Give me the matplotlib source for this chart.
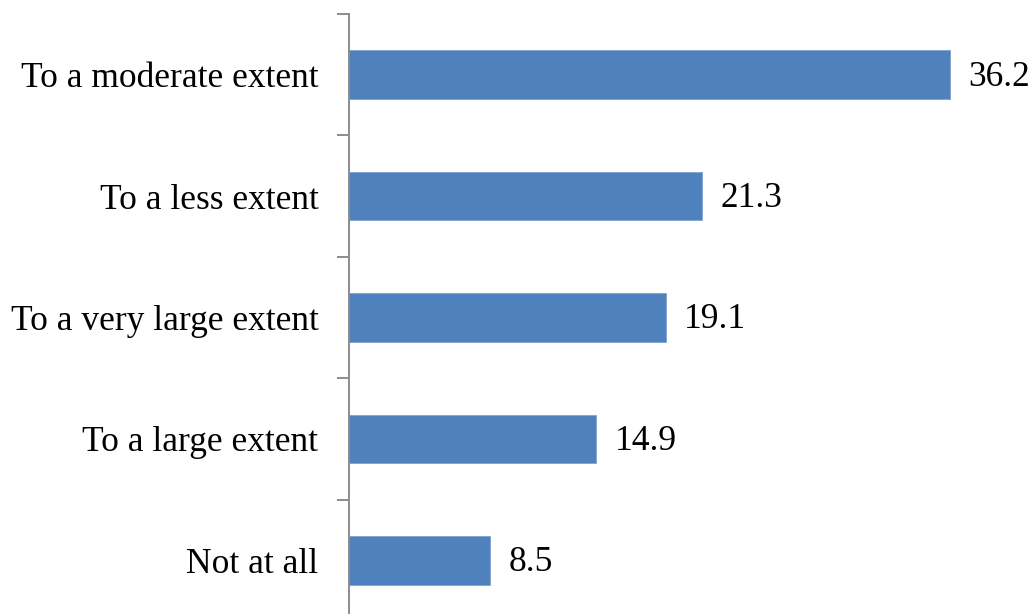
import matplotlib
matplotlib.use("Agg")
import matplotlib.pyplot as plt
import numpy as np

categories = ["To a moderate extent", "To a less extent", "To a very large extent",
              "To a large extent", "Not at all"]
values = [36.2, 21.3, 19.1, 14.9, 8.5]

plt.rcParams["font.family"] = ["Liberation Serif", "DejaVu Serif"]

fig = plt.figure(figsize=(10.36, 6.14), dpi=100)
ax = fig.add_axes([349 / 1036, 1 - 621 / 614, 1 - 349 / 1036, 607 / 614])

pos = np.arange(len(categories))
bars = ax.barh(pos, values, height=0.4, color="#4F81BD", edgecolor="#7FA3D1", linewidth=0.6)

for p, v in zip(pos, values):
    ax.text(v + 1.1, p + 0.02, f"{v:.1f}", va="center", ha="left", fontsize=25.5, color="black")

ax.set_ylim(len(categories) - 0.5, -0.5)
ax.set_xlim(0, 41.4)

# boundary ticks between categories, labels centred on the bars
ax.set_yticks(np.arange(-0.5, len(categories) + 0.5, 1.0))
ax.set_yticklabels([])
ax.set_yticks(pos, minor=True)
ax.set_yticklabels(categories, minor=True, fontsize=25.5)
ax.tick_params(axis="y", which="major", length=8.6, width=1.4, color="#8C8C8C", direction="out")
ax.tick_params(axis="y", which="minor", length=0, pad=22)
ax.set_xticks([])

for s in ["top", "right", "bottom"]:
    ax.spines[s].set_visible(False)
ax.spines["left"].set_color("#8C8C8C")
ax.spines["left"].set_linewidth(1.4)

fig.savefig("out.png", dpi=100)
